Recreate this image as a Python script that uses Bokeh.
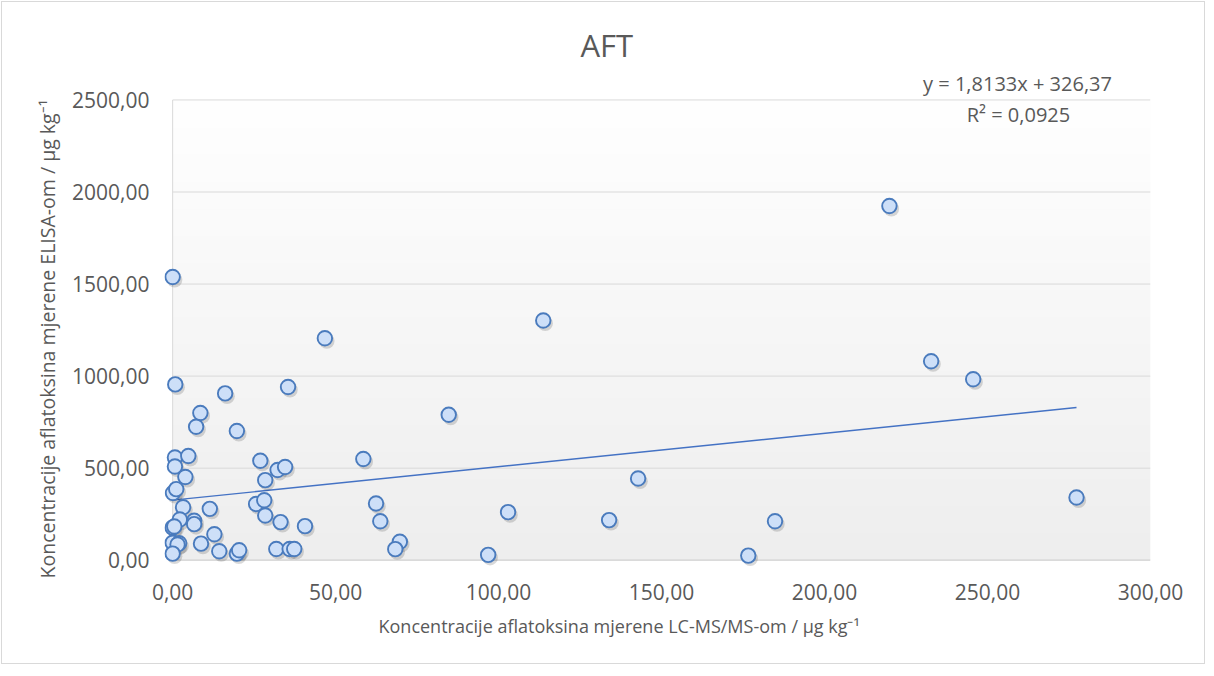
import numpy as np
from bokeh.plotting import figure
from bokeh.models import (ColumnDataSource, FixedTicker, CustomJSTickFormatter, Label,
                          Range1d, Title)
from bokeh.transform import dodge
from bokeh.embed import file_html
from bokeh.resources import INLINE

# ---- data ----
lcms = [0.0, 0.8, 46.7, 35.4, 16.1, 8.5, 7.2, 19.7, 0.7, 0.7,
        4.8, 3.9, 26.9, 32.2, 34.5, 28.4, 58.5, 0.1, 1.1, 3.2,
        11.4, 25.6, 28.1, 28.4, 33.1, 40.6, 62.4, 63.7, 69.7, 68.3,
        2.2, 0.0, 0.5, 6.6, 6.6, 12.8, 8.7, 0.0, 2.0, 1.5,
        0.0, 14.3, 19.7, 20.4, 31.8, 35.9, 37.3, 113.7, 84.7, 142.8,
        102.9, 133.9, 96.8, 184.8, 176.6, 219.9, 232.7, 245.6, 277.3]
elisa = [1538, 955, 1206, 941, 906, 800, 725, 702, 558, 509,
         566, 452, 540, 490, 506, 435, 550, 365, 386, 288,
         279, 305, 326, 243, 207, 185, 308, 212, 100, 60,
         221, 177, 183, 214, 196, 141, 90, 95, 92, 85,
         36, 49, 36, 54, 61, 61, 61, 1302, 790, 444,
         261, 218, 29, 212, 25, 1924, 1081, 983, 341]
x_ticks = [0, 50, 100, 150, 200, 250, 300]
y_ticks = [0, 500, 1000, 1500, 2000, 2500]
trend_slope = 1.8133
trend_intercept = 326.37
r_squared = 0.0925

title_text = "AFT"
x_label = "Koncentracije aflatoksina mjerene LC-MS/MS-om / µg kg⁻¹"
y_label = "Koncentracije aflatoksina mjerene  ELISA-om / µg kg⁻¹"
eq_text = ("y = %.4fx + %.2f" % (trend_slope, trend_intercept)).replace(".", ",")
r2_text = ("R² = %.4f" % r_squared).replace(".", ",")

# ---- styling ----
FONT = "Open Sans"
TXT = "#595959"
GRID = "#d9d9d9"
MARK_LINE = "#4a7bbd"
MARK_FILL = "#cddff8"
W, H = 1218, 677

p = figure(width=W, height=H, output_backend="svg", toolbar_location=None,
           x_range=Range1d(-2.5, 300), y_range=Range1d(-45, 2660),
           min_border_left=170, min_border_right=62, min_border_top=76, min_border_bottom=103,
           margin=(-6, 0, 0, -6),
           styles={"outline": "1px solid #d9d9d9", "outline-offset": "-8px"},
           background_fill_color="white", border_fill_color=None,
           outline_line_color=None)
p.xgrid.visible = False
p.ygrid.visible = False

# chart title
p.title.text = title_text
p.title.align = "left"
p.title.offset = 416
p.title.standoff = 10
p.title.text_font = FONT
p.title.text_font_size = "31px"
p.title.text_font_style = "normal"
p.title.text_color = TXT

# plot-area gradient (white at top to light grey at bottom)
n = 256
shade = np.linspace(238, 255, n).astype(np.uint8)
img = np.empty((n, 1), dtype=np.uint32)
view = img.view(dtype=np.uint8).reshape((n, 1, 4))
view[:, 0, 0] = shade
view[:, 0, 1] = shade
view[:, 0, 2] = shade
view[:, 0, 3] = 255
p.image_rgba(image=[img], x=x_ticks[0], y=y_ticks[0],
             dw=x_ticks[-1] - x_ticks[0], dh=y_ticks[-1] - y_ticks[0], level="image")

# gridlines and axis lines limited to the plot area
p.segment(x0=x_ticks[0], x1=x_ticks[-1], y0=y_ticks[1:], y1=y_ticks[1:],
          line_color=GRID, line_width=1, level="underlay")
p.segment(x0=[x_ticks[0]], x1=[x_ticks[0]], y0=[y_ticks[0]], y1=[y_ticks[-1]],
          line_color=GRID, line_width=1, level="underlay")
p.segment(x0=[x_ticks[0]], x1=[x_ticks[-1]], y0=[y_ticks[0]], y1=[y_ticks[0]],
          line_color="#cfcfcf", line_width=1.2, level="underlay")

# linear trend line
tx = np.array([min(lcms), max(lcms)])
ty = trend_slope * tx + trend_intercept
p.line(tx, ty, line_color="#4472c4", line_width=1.4)

# markers with soft shadow
src = ColumnDataSource(dict(x=lcms, y=elisa))
p.scatter(x=dodge("x", 0.6), y=dodge("y", -15), source=src, size=15.5,
          fill_color="#000000", fill_alpha=0.15, line_color=None)
p.scatter(x="x", y="y", source=src, size=14.5, marker="circle",
          fill_color=MARK_FILL, line_color=MARK_LINE, line_width=1.9)

fmt = CustomJSTickFormatter(code="return tick.toFixed(2).replace('.', ',');")

for ax in (p.xaxis[0], p.yaxis[0]):
    ax.formatter = fmt
    ax.axis_line_color = None
    ax.major_tick_line_color = None
    ax.minor_tick_line_color = None
    ax.major_tick_out = 0
    ax.major_tick_in = 0
    ax.major_label_text_font = FONT
    ax.major_label_text_font_size = "21px"
    ax.major_label_text_color = TXT

p.xaxis.ticker = FixedTicker(ticks=x_ticks)
p.yaxis.ticker = FixedTicker(ticks=y_ticks)
p.xaxis.major_label_standoff = 15
p.yaxis.major_label_standoff = 15

# axis titles (as side-panel titles so they can be offset like the reference)
p.add_layout(Title(text=x_label, align="left", offset=214, standoff=19,
                   text_font=FONT, text_font_size="18px", text_font_style="normal",
                   text_color=TXT), "below")
p.add_layout(Title(text=y_label, align="left", offset=-10, standoff=18,
                   text_font=FONT, text_font_size="19.5px", text_font_style="normal",
                   text_color=TXT), "left")

# trendline equation (data-space position in the upper right corner)
p.add_layout(Label(x=259.2, y=2588, text=eq_text, text_align="center",
                   text_baseline="alphabetic", text_font=FONT, text_font_size="20px",
                   text_color=TXT))
p.add_layout(Label(x=259.5, y=2420, text=r2_text, text_align="center",
                   text_baseline="alphabetic", text_font=FONT, text_font_size="20px",
                   text_color=TXT))

open("out.html", "w").write(file_html(p, INLINE))
